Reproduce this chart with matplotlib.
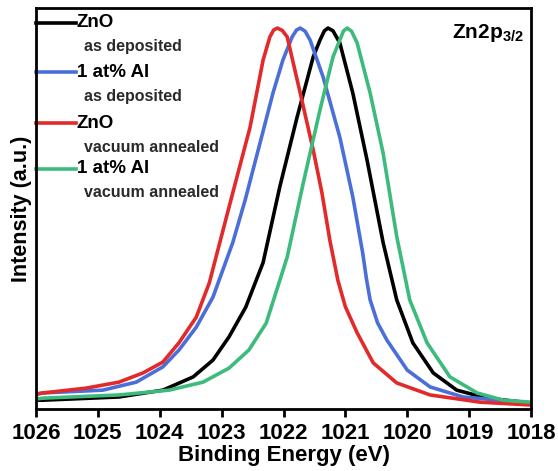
import matplotlib.pyplot as plt

plt.rcParams['font.family'] = ['Liberation Sans', 'DejaVu Sans']
plt.rcParams['font.weight'] = 'bold'
plt.rcParams['mathtext.fontset'] = 'custom'
plt.rcParams['mathtext.bf'] = 'Liberation Sans:bold'
plt.rcParams['mathtext.rm'] = 'Liberation Sans:bold'

# binding energy (eV) / intensity (a.u.)
zno_dep_E = [1026.0, 1025.89, 1024.66, 1023.95, 1023.46, 1023.14, 1022.88, 1022.61,
             1022.33, 1022.06, 1021.78, 1021.52, 1021.41, 1021.34, 1021.28, 1021.20,
             1021.09, 1020.88, 1020.65, 1020.39, 1020.17, 1019.91, 1019.58, 1019.20,
             1018.71, 1018.0]
zno_dep_I = [2.2, 2.2, 3.0, 4.7, 8.0, 12.2, 18.0, 25.4,
             36.5, 55.4, 72.8, 87.8, 92.0, 94.3, 95.0, 94.3,
             91.3, 78.8, 62.1, 41.5, 27.2, 16.5, 9.0, 4.7,
             2.7, 1.5]

al_dep_E = [1026.0, 1025.89, 1024.92, 1024.38, 1023.95, 1023.69, 1023.41, 1023.14,
            1022.82, 1022.62, 1022.38, 1022.17, 1022.01, 1021.86, 1021.79, 1021.73,
            1021.65, 1021.57, 1021.36, 1021.09, 1020.88, 1020.72, 1020.66, 1020.60,
            1020.48, 1020.33, 1020.00, 1019.63, 1019.10, 1018.0]
al_dep_I = [3.7, 4.0, 4.7, 6.7, 10.5, 14.7, 20.4, 27.9,
            41.5, 52.1, 66.3, 78.8, 87.0, 92.8, 94.5, 95.0,
            94.2, 92.0, 82.8, 67.8, 52.9, 38.9, 32.5, 27.2,
            21.5, 17.2, 9.7, 5.5, 3.0, 1.5]

zno_vac_E = [1026.0, 1025.89, 1025.19, 1024.66, 1024.27, 1023.95, 1023.69, 1023.41,
             1023.20, 1023.06, 1022.82, 1022.54, 1022.33, 1022.22, 1022.16, 1022.10,
             1022.02, 1021.94, 1021.73, 1021.52, 1021.38, 1021.25, 1021.12, 1021.00,
             1020.81, 1020.55, 1020.17, 1019.63, 1018.82, 1018.0]
zno_vac_I = [3.7, 4.0, 5.2, 6.7, 9.0, 11.7, 16.5, 22.9,
             31.4, 39.7, 53.9, 70.3, 87.0, 92.8, 94.5, 95.0,
             94.4, 92.8, 78.8, 64.6, 54.0, 42.0, 32.0, 25.5,
             19.0, 11.5, 6.5, 3.5, 1.7, 1.0]

al_vac_E = [1026.0, 1025.89, 1024.66, 1023.85, 1023.30, 1022.88, 1022.56, 1022.28,
            1021.94, 1021.68, 1021.41, 1021.20, 1021.09, 1021.03, 1020.97, 1020.90,
            1020.81, 1020.60, 1020.39, 1020.17, 1019.96, 1019.68, 1019.31, 1018.87,
            1018.45, 1018.0]
al_vac_I = [2.5, 2.7, 3.5, 4.7, 6.7, 10.2, 14.7, 21.4,
            37.9, 56.4, 74.6, 87.8, 92.0, 94.3, 95.0, 94.2,
            91.3, 78.8, 63.8, 43.0, 27.2, 16.5, 8.0, 4.0,
            2.2, 1.7]

labels = ['ZnO', '1 at% Al', 'ZnO', '1 at% Al']
sublabels = ['as deposited', 'as deposited', 'vacuum annealed', 'vacuum annealed']
colors = ['black', '#4b6fd8', '#e32a2a', '#3dbb7c']
xticks = [1026, 1025, 1024, 1023, 1022, 1021, 1020, 1019, 1018]

fig = plt.figure(figsize=(5.58, 4.71), dpi=100)
ax = fig.add_axes([36 / 558, 62 / 471, 495 / 558, 401 / 471])

series = [(zno_dep_E, zno_dep_I), (al_dep_E, al_dep_I),
          (zno_vac_E, zno_vac_I), (al_vac_E, al_vac_I)]
for (e, i), c in zip(series, colors):
    ax.plot(e, i, color=c, lw=2.6, solid_joinstyle='round')

ax.set_xlim(1026, 1018)
ax.set_ylim(0, 100)
ax.set_xticks(xticks)
ax.set_xticklabels([str(t) for t in xticks], fontsize=16, fontweight='bold')
ax.set_yticks([])
ax.tick_params(axis='x', direction='out', length=6, width=2, pad=4)
for s in ax.spines.values():
    s.set_linewidth(2)
ax.set_xlabel('Binding Energy (eV)', fontsize=16, fontweight='bold', labelpad=1)
ax.set_ylabel('Intensity (a.u.)', fontsize=15.5, fontweight='bold', labelpad=3)

# hand-made legend
ly = [0.963, 0.840, 0.713, 0.599]
for k in range(4):
    ax.plot([0, 0.08], [ly[k], ly[k]], color=colors[k], lw=2.6,
            transform=ax.transAxes, clip_on=False)
    ax.text(0.082, ly[k], labels[k], transform=ax.transAxes, fontsize=13.5,
            fontweight='bold', va='center', ha='left')
    ax.text(0.096, ly[k] - 0.060, sublabels[k], transform=ax.transAxes,
            fontsize=11.5, fontweight='bold', va='center', ha='left', color='#2a2a2a')

ax.text(0.985, 0.965, r'$\mathbf{Zn2p}_{\mathbf{3/2}}$', transform=ax.transAxes,
        fontsize=15, ha='right', va='top')

fig.savefig('out.png', dpi=100)
